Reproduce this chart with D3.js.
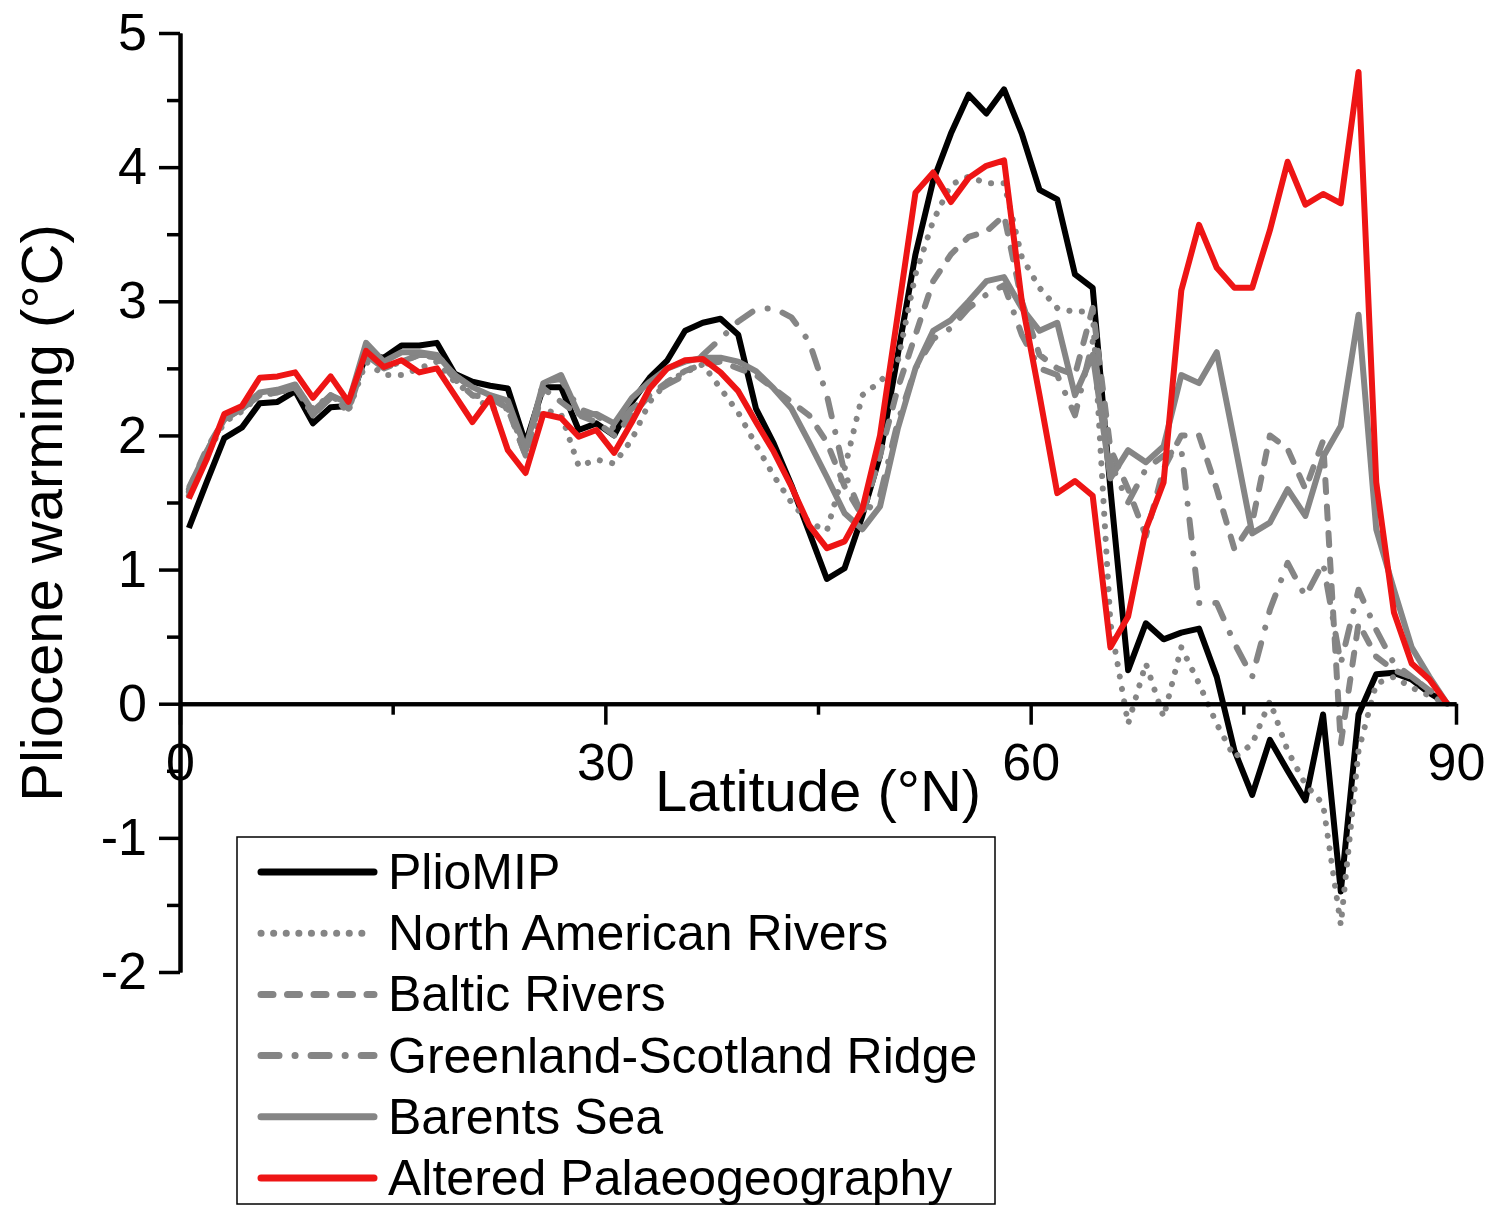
<!DOCTYPE html>
<html>
<head>
<meta charset="utf-8">
<script src="https://cdn.jsdelivr.net/npm/d3@7"></script>
<style>
  body { margin: 0; background: #fff; }
  svg { display: block; font-family: "Liberation Sans", Arial, sans-serif; }
</style>
</head>
<body>
<svg id="chart" width="1493" height="1207"></svg>
<script>

// latitude grid (1.25 degree bands)
var lat = [0.625, 1.875, 3.125, 4.375, 5.625, 6.875, 8.125, 9.375, 10.625, 11.875,
  13.125, 14.375, 15.625, 16.875, 18.125, 19.375, 20.625, 21.875, 23.125, 24.375,
  25.625, 26.875, 28.125, 29.375, 30.625, 31.875, 33.125, 34.375, 35.625, 36.875,
  38.125, 39.375, 40.625, 41.875, 43.125, 44.375, 45.625, 46.875, 48.125, 49.375,
  50.625, 51.875, 53.125, 54.375, 55.625, 56.875, 58.125, 59.375, 60.625, 61.875,
  63.125, 64.375, 65.625, 66.875, 68.125, 69.375, 70.625, 71.875, 73.125, 74.375,
  75.625, 76.875, 78.125, 79.375, 80.625, 81.875, 83.125, 84.375, 85.625, 86.875,
  88.125, 89.375]

var plioMIP = [1.31, 1.65, 1.98, 2.06, 2.24, 2.25, 2.33, 2.09, 2.21, 2.22, 2.6, 2.58, 2.67, 2.67, 2.69, 2.46, 2.4, 2.37, 2.35, 1.94, 2.36, 2.36, 2.04, 2.09, 2.0,
  2.25, 2.43, 2.56, 2.78, 2.84, 2.87, 2.75, 2.2, 1.94, 1.63, 1.28, 0.93, 1.01, 1.4, 1.85, 2.6, 3.35, 3.9, 4.25, 4.54, 4.4, 4.58, 4.25, 3.83, 3.76, 3.2, 3.1,
  1.6, 0.25, 0.6, 0.48, 0.53, 0.56, 0.2, -0.35, -0.68, -0.27, -0.5, -0.72, -0.08, -1.4, -0.08, 0.22, 0.23, 0.18, 0.08, 0.0]

var northAmericanRivers = [1.55, 1.85, 2.1, 2.18, 2.3, 2.32, 2.35, 2.2, 2.3, 2.18, 2.55, 2.45, 2.45, 2.5, 2.55, 2.4, 2.3, 2.2, 2.2, 1.88, 2.19, 2.16, 1.77, 1.82, 1.79,
  1.97, 2.25, 2.4, 2.47, 2.53, 2.35, 2.17, 1.93, 1.7, 1.5, 1.35, 1.29, 1.75, 2.3, 2.4, 2.55, 3.2, 3.6, 3.87, 3.93, 3.88, 3.88, 3.33, 3.1, 2.95, 2.92, 2.93,
  0.6, -0.15, 0.3, -0.1, 0.42, 0.15, -0.15, -0.4, -0.3, 0.02, -0.35, -0.6, -0.75, -1.65, -0.35, 0.15, 0.2, 0.12, 0.06, 0.0]

var balticRivers = [1.6, 1.9, 2.12, 2.2, 2.3, 2.32, 2.36, 2.15, 2.3, 2.2, 2.62, 2.5, 2.55, 2.6, 2.58, 2.42, 2.3, 2.28, 2.2, 1.85, 2.35, 2.25, 2.15, 2.1, 2.0,
  2.15, 2.3, 2.4, 2.48, 2.53, 2.55, 2.5, 2.45, 2.35, 2.25, 2.15, 1.95, 1.62, 1.4, 1.85, 2.35, 2.75, 3.15, 3.35, 3.48, 3.52, 3.64, 3.0, 2.6, 2.5, 2.45, 2.95,
  1.9, 1.6, 1.25, 1.75, 2.0, 2.0, 1.6, 1.15, 1.35, 2.0, 1.9, 1.6, 1.96, -0.3, 0.6, 0.35, 0.25, 0.2, 0.1, 0.0]

var greenlandScotlandRidge = [1.58, 1.88, 2.12, 2.2, 2.3, 2.32, 2.36, 2.15, 2.28, 2.18, 2.6, 2.5, 2.55, 2.6, 2.6, 2.45, 2.35, 2.3, 2.2, 1.85, 2.4, 2.42, 2.2, 2.15, 2.05,
  2.2, 2.3, 2.38, 2.45, 2.6, 2.72, 2.85, 2.94, 2.95, 2.88, 2.7, 2.3, 1.72, 1.4, 1.55, 2.1, 2.5, 2.72, 2.8, 2.95, 3.05, 3.12, 2.75, 2.5, 2.45, 2.15, 2.7,
  1.8, 1.5, 1.75, 1.85, 1.9, 0.75, 0.75, 0.45, 0.2, 0.7, 1.05, 0.8, 1.05, 0.3, 0.85, 0.55, 0.3, 0.2, 0.1, 0.0]

var barentsSea = [1.61, 1.88, 2.12, 2.2, 2.32, 2.34, 2.38, 2.18, 2.3, 2.24, 2.69, 2.55, 2.62, 2.62, 2.6, 2.45, 2.36, 2.3, 2.26, 1.9, 2.39, 2.45, 2.16, 2.16, 2.09,
  2.28, 2.4, 2.5, 2.55, 2.58, 2.58, 2.55, 2.48, 2.35, 2.2, 1.95, 1.69, 1.42, 1.3, 1.47, 2.05, 2.5, 2.78, 2.86, 3.0, 3.15, 3.18, 2.95, 2.78, 2.84, 2.3, 2.6,
  1.68, 1.89, 1.8, 1.92, 2.45, 2.39, 2.62, 1.95, 1.27, 1.35, 1.6, 1.4, 1.84, 2.07, 2.9, 1.3, 0.85, 0.42, 0.2, 0.0]

var alteredPalaeogeography = [1.53, 1.82, 2.16, 2.22, 2.43, 2.44, 2.47, 2.28, 2.44, 2.25, 2.63, 2.51, 2.56, 2.47, 2.5, 2.3, 2.1, 2.28, 1.89, 1.72, 2.16, 2.13, 1.99, 2.04, 1.87,
  2.1, 2.35, 2.5, 2.56, 2.57, 2.47, 2.33, 2.1, 1.88, 1.62, 1.33, 1.16, 1.21, 1.45, 2.0, 2.9, 3.81, 3.96, 3.74, 3.92, 4.01, 4.05, 3.0, 2.3, 1.57, 1.66, 1.55,
  0.42, 0.65, 1.3, 1.65, 3.08, 3.57, 3.25, 3.1, 3.1, 3.53, 4.04, 3.72, 3.8, 3.73, 4.71, 1.65, 0.68, 0.3, 0.18, 0.0]

var seriesNames = ['PlioMIP', 'North American Rivers', 'Baltic Rivers',
  'Greenland-Scotland Ridge', 'Barents Sea', 'Altered Palaeogeography']

var xMajorTicks = [0, 30, 60, 90]
var xMinorTicks = [15, 45, 75]
var yMajorTicks = [-2, -1, 0, 1, 2, 3, 4, 5]
var yMinorTicks = [-1.5, -0.5, 0.5, 1.5, 2.5, 3.5, 4.5]

var grey = '#858585'
var series = [
    {name: seriesNames[0], values: plioMIP, color: '#000', dash: null},
    {name: seriesNames[1], values: northAmericanRivers, color: grey, dash: '0.1,12.5'},
    {name: seriesNames[2], values: balticRivers, color: grey, dash: '12,14.5'},
    {name: seriesNames[3], values: greenlandScotlandRidge, color: grey, dash: '18,16,0.1,16'},
    {name: seriesNames[4], values: barentsSea, color: grey, dash: null},
    {name: seriesNames[5], values: alteredPalaeogeography, color: '#ee1515', dash: null}
]

var svg = d3.select('#chart')

var x = d3.scaleLinear().domain([0, 90]).range([180, 1456])
var y = d3.scaleLinear().domain([-2, 5]).range([972, 33])

// plain hyphen for negatives, like the original
function plainNumber(d){ return String(d) }

// lines
var line = d3.line()
    .x(function(d, i){ return x(lat[i]) })
    .y(function(d){ return y(d) })

svg.append('g').selectAll('path')
    .data(series)
    .enter().append('path')
    .attr('fill', 'none')
    .attr('stroke', function(d){ return d.color })
    .attr('stroke-width', 6)
    .attr('stroke-linejoin', 'round')
    .attr('stroke-linecap', function(d){ return d.dash ? 'round' : 'butt' })
    .attr('stroke-dasharray', function(d){ return d.dash })
    .attr('d', function(d){ return line(d.values) })

// axes
function styleAxis(g){
    g.select('.domain').attr('stroke-width', 4)
    g.selectAll('.tick line').attr('stroke-width', 3.5)
    g.selectAll('.tick text').attr('font-size', 52).attr('fill', '#000')
        .attr('font-family', '"Liberation Sans", Arial, sans-serif')
}

svg.append('g')
    .attr('transform', 'translate(0,' + y(0) + ')')
    .call(d3.axisBottom(x).tickValues(xMinorTicks).tickSize(11).tickSizeOuter(0).tickFormat(''))
    .call(styleAxis)

svg.append('g')
    .attr('transform', 'translate(0,' + y(0) + ')')
    .call(d3.axisBottom(x).tickValues(xMajorTicks).tickSize(21).tickSizeOuter(0).tickPadding(18).tickFormat(plainNumber))
    .call(styleAxis)

svg.append('g')
    .attr('transform', 'translate(' + x(0) + ',0)')
    .call(d3.axisLeft(y).tickValues(yMinorTicks).tickSize(13).tickSizeOuter(0).tickFormat(''))
    .call(styleAxis)

svg.append('g')
    .attr('transform', 'translate(' + x(0) + ',0)')
    .call(d3.axisLeft(y).tickValues(yMajorTicks).tickSize(21).tickSizeOuter(0).tickPadding(12).tickFormat(plainNumber))
    .call(styleAxis)

// axis titles
svg.append('text')
    .attr('x', 818)
    .attr('y', 811)
    .attr('text-anchor', 'middle')
    .attr('font-size', 58)
    .text('Latitude (°N)')

svg.append('text')
    .attr('transform', 'translate(62,513) rotate(-90)')
    .attr('text-anchor', 'middle')
    .attr('font-size', 58)
    .text('Pliocene warming (°C)')

// legend
var legend = svg.append('g')

legend.append('rect')
    .attr('x', 237)
    .attr('y', 837)
    .attr('width', 758)
    .attr('height', 367)
    .attr('fill', '#fff')
    .attr('stroke', '#000')
    .attr('stroke-width', 1.5)

var rows = legend.selectAll('g.row')
    .data(series)
    .enter().append('g')
    .classed('row', true)
    .attr('transform', function(d, i){ return 'translate(0,' + (872 + i * 61.2) + ')' })

rows.append('line')
    .attr('x1', 261)
    .attr('x2', 374)
    .attr('stroke', function(d){ return d.color })
    .attr('stroke-width', 7)
    .attr('stroke-linecap', 'round')
    .attr('stroke-dasharray', function(d){ return d.dash })

rows.append('text')
    .attr('x', 388)
    .attr('y', 17)
    .attr('font-size', 50)
    .text(function(d){ return d.name })

</script>
</body>
</html>
